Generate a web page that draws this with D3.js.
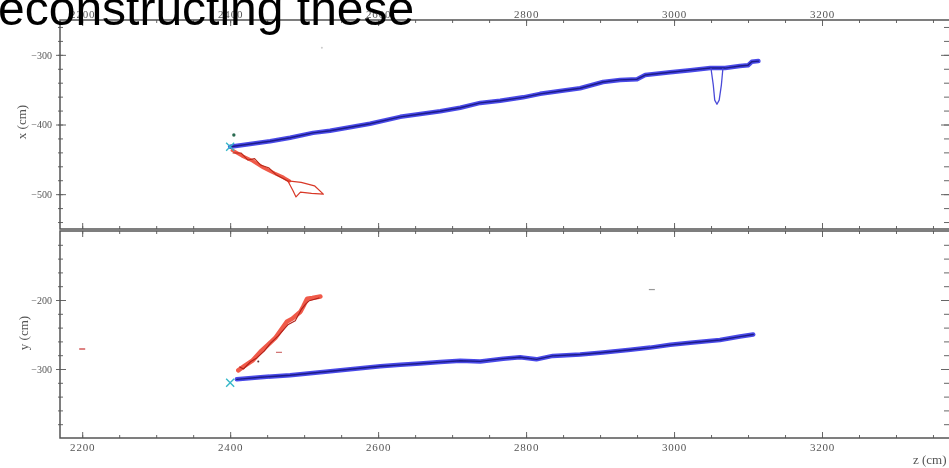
<!DOCTYPE html>
<html>
<head>
<meta charset="utf-8">
<script src="https://cdn.jsdelivr.net/npm/d3@7"></script>
<style>
  body { margin: 0; background: #fff; }
  svg { display: block; }
  .tick text { font-family: "Liberation Serif", "DejaVu Serif", serif; fill: #555; }
  .tick line { stroke: #666; }
  .domain { display: none; }
  .label { font-family: "Liberation Serif", serif; font-size: 13px; fill: #555; }
</style>
</head>
<body>
<svg id="fig" width="949" height="468"></svg>
<script>
// z ticks (cm)
const zTicks = [2200, 2400, 2600, 2800, 3000, 3200];
const xTicks = [-300, -400, -500];
const yTicks = [-200, -300];

// top panel: x vs z
const topBlueZ = [2400, 2427, 2454, 2481, 2512, 2535, 2562, 2589, 2630, 2657, 2684, 2711, 2738, 2765, 2796, 2819, 2846, 2873, 2904, 2927, 2950, 2961, 2995, 3022, 3049, 3069, 3089, 3100, 3105, 3114];
const topBlueX = [-432, -428, -424, -419, -412, -409, -404, -399, -389, -385, -381, -376, -369, -366, -361, -356, -352, -348, -339, -336, -335, -329, -325, -322, -319, -319, -316, -315, -310, -309];
const dipZ = [3050, 3053, 3055, 3058, 3061, 3064, 3066];
const dipX = [-320, -343, -365, -371, -365, -343, -320];
const topRedZ = [2403, 2416, 2430, 2445, 2460, 2472, 2480];
const topRedX = [-437, -445, -452, -462, -470, -476, -481];
const zigZ = [2404, 2415, 2424, 2433, 2441, 2452, 2462, 2478];
const zigX = [-441, -441, -451, -449, -458, -462, -472, -481];
const loopZ = [2478, 2496, 2514, 2526, 2510, 2495, 2489, 2485, 2478];
const loopX = [-481, -483, -488, -500, -499, -497, -504, -495, -481];

// bottom panel: y vs z
const botBlueZ = [2409, 2441, 2481, 2539, 2576, 2603, 2630, 2657, 2684, 2711, 2738, 2769, 2792, 2814, 2836, 2873, 2904, 2941, 2968, 2995, 3022, 3062, 3089, 3107];
const botBlueY = [-315, -312, -309, -303, -299, -296, -294, -292, -290, -288, -289, -285, -283, -286, -281, -279, -276, -272, -269, -265, -262, -258, -253, -250];
const botRedZ = [2411, 2420, 2430, 2441, 2451, 2461, 2477, 2484, 2495, 2499, 2504, 2511, 2522];
const botRedY = [-302, -295, -288, -275, -265, -255, -231, -227, -217, -209, -198, -197, -195];
const botZigZ = [2413, 2418, 2428, 2436, 2446, 2455, 2465, 2478, 2488, 2496, 2502, 2507, 2520];
const botZigY = [-297, -300, -289, -284, -274, -262, -252, -236, -230, -214, -206, -201, -197];

const svg = d3.select("#fig");
const L = 60, R = 950, T1 = 20, B1 = 229, T2 = 231, B2 = 438;

const z = d3.scaleLinear().domain([2170, 3373]).range([L, R]);
const xs = d3.scaleLinear().domain([-550, -250]).range([B1, T1]);
const ys = d3.scaleLinear().domain([-400, -100]).range([B2, T2]);

const defs = svg.append("defs");
defs.append("filter").attr("id", "soft")
  .append("feGaussianBlur").attr("stdDeviation", 0.55);

const g = svg.append("g").attr("filter", "url(#soft)");

const zMinor = d3.range(2200, 3400, 50);

function axisPair(axisFn, scale, majors, minors, tr, labels, fontSize, pad, outer) {
  g.append("g").attr("transform", tr)
    .call(axisFn(scale).tickValues(minors).tickSize(-3).tickFormat(""));
  if (outer) {
    g.append("g").attr("transform", tr)
      .call(axisFn(scale).tickValues(minors).tickSize(2).tickFormat(""));
    g.append("g").attr("transform", tr)
      .call(axisFn(scale).tickValues(majors).tickSize(4).tickFormat(""));
  }
  const a = g.append("g").attr("transform", tr)
    .call(axisFn(scale).tickValues(majors).tickSize(-6).tickPadding(pad)
      .tickFormat(labels ? d3.format("d") : ""));
  a.selectAll("text").style("font-size", fontSize + "px");
  return a;
}

// top panel axes
axisPair(d3.axisTop, z, zTicks, zMinor, `translate(0,${T1})`, true, 11, 2, false)
  .selectAll("text").style("letter-spacing", "0.8px");
axisPair(d3.axisBottom, z, zTicks, zMinor, `translate(0,${B1})`, false, 11, 2, false);
axisPair(d3.axisLeft, xs, xTicks, d3.range(-540, -250, 20), `translate(${L},0)`, true, 10, 8, true);
axisPair(d3.axisRight, xs, xTicks, d3.range(-540, -250, 20), `translate(${R - 3},0)`, false, 10, 2, true);
// bottom panel axes
axisPair(d3.axisTop, z, zTicks, zMinor, `translate(0,${T2})`, false, 11, 2, false);
axisPair(d3.axisBottom, z, zTicks, zMinor, `translate(0,${B2})`, true, 11, 5, false)
  .selectAll("text").style("letter-spacing", "0.8px");
axisPair(d3.axisLeft, ys, yTicks, d3.range(-380, -100, 20), `translate(${L},0)`, true, 10, 8, true);
axisPair(d3.axisRight, ys, yTicks, d3.range(-380, -100, 20), `translate(${R - 3},0)`, false, 10, 2, true);

g.selectAll(".frame")
  .data([[T1, B1], [T2, B2]])
  .enter().append("rect")
  .attr("x", L).attr("y", d => d[0])
  .attr("width", R - L).attr("height", d => d[1] - d[0])
  .attr("fill", "none").attr("stroke", "#555").attr("stroke-width", 1.5);

function track(Z, V, vScale, color, width) {
  const line = d3.line().x((d, i) => z(Z[i])).y((d, i) => vScale(V[i]));
  g.append("path").datum(Z).attr("d", line)
    .attr("fill", "none").attr("stroke", color).attr("stroke-width", width)
    .attr("stroke-linejoin", "round").attr("stroke-linecap", "round");
}

// top panel tracks
track(topBlueZ, topBlueX, xs, "#4a4ae8", 4.5);
track(topBlueZ, topBlueX, xs, "#1c1c88", 1.4);
track(dipZ, dipX, xs, "#4a4ad8", 1.3);
track(topRedZ, topRedX, xs, "#f05a4a", 3.5);
track(zigZ, zigX, xs, "#b82818", 1.1);
track(loopZ, loopX, xs, "#d83828", 1.2);

// bottom panel tracks
track(botBlueZ, botBlueY, ys, "#4a4ae8", 4.5);
track(botBlueZ, botBlueY, ys, "#1c1c88", 1.4);
track(botRedZ, botRedY, ys, "#f05a4a", 4.5);
track(botZigZ, botZigY, ys, "#b02018", 1.1);

// start markers
const startZ = [2400, 2400];
const startV = [-432, -320];
const scales = [xs, ys];
startZ.forEach((s, i) => {
  const cx = z(s), cy = scales[i](startV[i]);
  g.append("path")
    .attr("d", `M${cx - 4},${cy - 4}L${cx + 4},${cy + 4}M${cx - 4},${cy + 4}L${cx + 4},${cy - 4}`)
    .attr("stroke", "#35b7c8").attr("stroke-width", 1.4);
});
g.append("circle").attr("cx", z(2405)).attr("cy", xs(-415)).attr("r", 1.7).attr("fill", "#2a6a50");
g.append("circle").attr("cx", z(2524)).attr("cy", xs(-290)).attr("r", 1).attr("fill", "#ccc");
g.append("rect").attr("x", z(2200) - 3).attr("y", ys(-270)).attr("width", 6).attr("height", 1.4).attr("fill", "#d05050");
g.append("rect").attr("x", z(2466) - 3).attr("y", ys(-275)).attr("width", 6).attr("height", 1.2).attr("fill", "#d07070");
g.append("circle").attr("cx", z(2438)).attr("cy", ys(-289)).attr("r", 1).attr("fill", "#553333");
g.append("rect").attr("x", z(2970) - 3).attr("y", ys(-184)).attr("width", 6).attr("height", 1.2).attr("fill", "#999");

// axis labels
g.append("text").attr("class", "label")
  .attr("transform", `translate(26,122) rotate(-90)`)
  .attr("text-anchor", "middle").text("x (cm)");
g.append("text").attr("class", "label")
  .attr("transform", `translate(28,333) rotate(-90)`)
  .attr("text-anchor", "middle").text("y (cm)");
g.append("text").attr("class", "label")
  .attr("x", 913).attr("y", 464).style("font-size", "13px").text("z (cm)");

// slide title, cut off by the crop
svg.append("text")
  .attr("x", -2).attr("y", 25)
  .style("font-family", "'Liberation Sans', Arial, sans-serif")
  .style("font-size", "48px")
  .attr("fill", "#000")
  .text("econstructing these");
</script>
</body>
</html>
